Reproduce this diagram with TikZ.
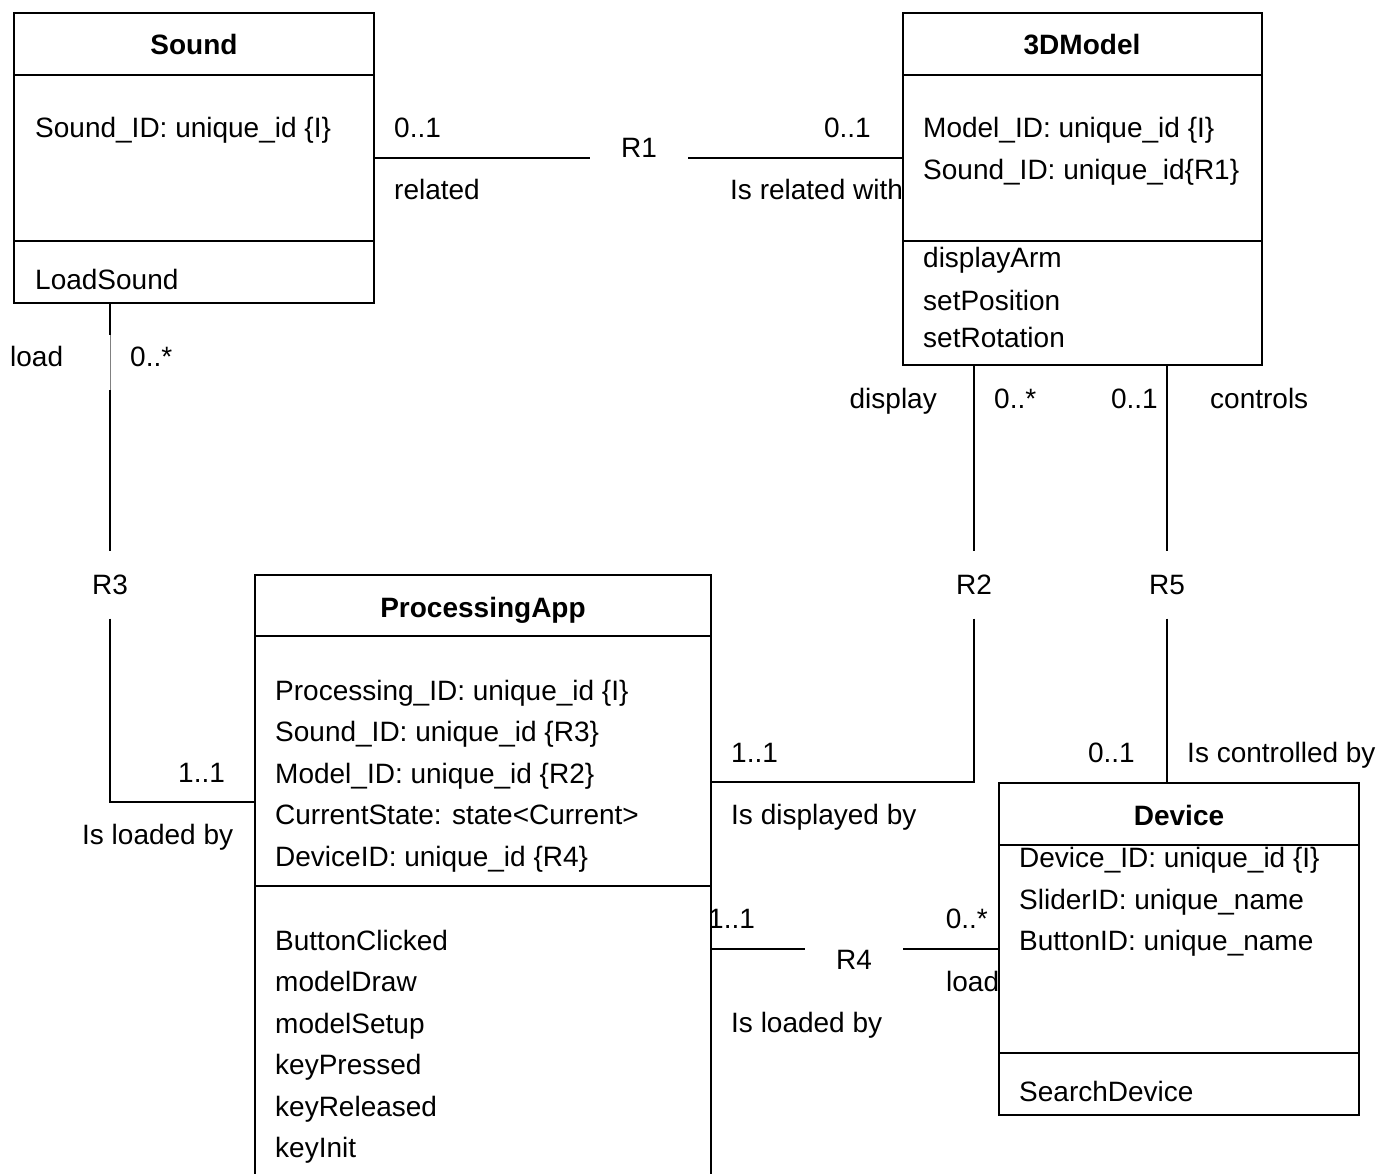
\documentclass[tikz,border=0pt]{standalone}
\usepackage{fontspec}
\setmainfont{Liberation Sans}
\begin{document}
\begin{tikzpicture}[x=1pt,y=-1pt,
  ln/.style={line width=1.5pt},
  box/.style={anchor=north west, inner sep=0pt, outer sep=0pt},
  txt/.style={anchor=base west, inner sep=0pt, font=\fontsize{28}{34}\selectfont, yshift=-10pt},
  rtxt/.style={anchor=base east, inner sep=0pt, font=\fontsize{28}{34}\selectfont, yshift=-10pt},
  ttl/.style={anchor=base, inner sep=0pt, font=\fontsize{28}{34}\selectfont\bfseries, yshift=-10pt},
  rel/.style={inner sep=0pt, font=\fontsize{28}{34}\selectfont},
  relh/.style={rel, minimum width=98pt, minimum height=30pt},
  relv/.style={rel, minimum width=40pt, minimum height=67pt}]
\useasboundingbox (0,0) rectangle (1391,1174);

% ---------- boxes ----------
\node[box, draw, line width=1.5pt, minimum width=360pt, minimum height=290pt] (sound) at (14,13) {};
\draw[ln] (14,75) -- (374,75);
\draw[ln] (14,241) -- (374,241);
\node[ttl] (soundT) at (194,45) {Sound};
\node[txt] (s1) at (35,128) {Sound\_ID: unique\_id \{I\}};
\node[txt] (s2) at (35,279) {LoadSound};

\node[box, draw, line width=1.5pt, minimum width=359pt, minimum height=352pt] (m3d) at (903,13) {};
\draw[ln] (903,75) -- (1262,75);
\draw[ln] (903,241) -- (1262,241);
\node[ttl] (m3dT) at (1082,45) {3DModel};
\node[txt] (m1) at (923,128) {Model\_ID: unique\_id \{I\}};
\node[txt] (m2) at (923,170) {Sound\_ID: unique\_id\{R1\}};
\node[txt] (m3) at (923,258) {displayArm};
\node[txt] (m4) at (923,300) {setPosition};
\node[txt] (m5) at (923,337) {setRotation};

\node[box, minimum width=456pt, minimum height=620pt] (proc) at (255,575) {};
\draw[ln] (proc.south west) |- (proc.north east) -- (proc.south east);
\draw[ln] (255,636) -- (711,636);
\draw[ln] (255,886) -- (711,886);
\node[ttl] (procT) at (483,607) {ProcessingApp};
\node[txt] (p1) at (275,690) {Processing\_ID: unique\_id \{I\}};
\node[txt] (p2) at (275,731) {Sound\_ID: unique\_id \{R3\}};
\node[txt] (p3) at (275,773) {Model\_ID: unique\_id \{R2\}};
\node[txt] (p4) at (275,814) {CurrentState: state<Current>};
\node[txt] (p5) at (275,856) {DeviceID: unique\_id \{R4\}};
\node[txt] (p6) at (275,940) {ButtonClicked};
\node[txt] (p7) at (275,981) {modelDraw};
\node[txt] (p8) at (275,1023) {modelSetup};
\node[txt] (p9) at (275,1064) {keyPressed};
\node[txt] (p10) at (275,1106) {keyReleased};
\node[txt] (p11) at (275,1147) {keyInit};

\node[box, draw, line width=1.5pt, minimum width=360pt, minimum height=332pt] (dev) at (999,783) {};
\draw[ln] (999,845) -- (1359,845);
\draw[ln] (999,1053) -- (1359,1053);
\node[ttl] (devT) at (1179,815) {Device};
\node[txt] (d1) at (1019,857) {Device\_ID: unique\_id \{I\}};
\node[txt] (d2) at (1019,899) {SliderID: unique\_name};
\node[txt] (d3) at (1019,940) {ButtonID: unique\_name};
\node[txt] (d4) at (1019,1091) {SearchDevice};

% ---------- R1 ----------
\node[relh] (r1) at (639,148) {R1};
\draw[ln] (sound.east) -- (sound.east -| r1.west);
\draw[ln] (sound.east -| r1.east) -- (sound.east -| m3d.west);
\node[txt] (r1a) at (394,128) {0..1};
\node[txt] (r1b) at (394,190) {related};
\node[rtxt] (r1c) at (871,128) {0..1};
\node[txt] (r1d) at (730,190) {Is related with};

% ---------- R3 ----------
\node[relv] (r3) at (110,585) {R3};
\coordinate (s3top) at (sound.south -| r3);
\coordinate (g1) at (110,335);
\coordinate (g2) at (110,390);
\draw[ln] (s3top) -- (g1);
\draw[gray, line width=0.8pt] (g1) -- (g2);
\draw[ln] (g2) -- (r3.north);
\coordinate (p3in) at (255,802);
\draw[ln] (r3.south) |- (p3in);
\node[txt] (r3a) at (10,356) {load};
\node[txt] (r3b) at (130,356) {0..*};
\node[txt] (r3c) at (178,772) {1..1};
\node[txt] (r3d) at (82,834) {Is loaded by};

% ---------- R2 ----------
\node[relv] (r2) at (974,585) {R2};
\draw[ln] (m3d.south -| r2) -- (r2.north);
\coordinate (p2in) at (711,782);
\draw[ln] (r2.south) |- (p2in);
\node[rtxt] (r2a) at (937,398) {display};
\node[txt] (r2b) at (994,398) {0..*};
\node[txt] (r2c) at (731,752) {1..1};
\node[txt] (r2d) at (731,814) {Is displayed by};

% ---------- R5 ----------
\node[relv] (r5) at (1167,585) {R5};
\draw[ln] (m3d.south -| r5) -- (r5.north);
\draw[ln] (r5.south) -- (dev.north -| r5);
\node[rtxt] (r5a) at (1158,398) {0..1};
\node[txt] (r5b) at (1210,398) {controls};
\node[rtxt] (r5c) at (1135,752) {0..1};
\node[txt] (r5d) at (1187,752) {Is controlled by};

% ---------- R4 ----------
\node[relh] (r4) at (854,960) {R4};
\coordinate (p4out) at (711,949);
\draw[ln] (p4out) -- (p4out -| r4.west);
\draw[ln] (p4out -| r4.east) -- (p4out -| dev.west);
\node[txt] (r4a) at (708,918) {1..1};
\node[rtxt] (r4b) at (988,918) {0..*};
\node[txt] (r4c) at (946,981) {load};
\node[txt] (r4d) at (731,1022) {Is loaded by};
\end{tikzpicture}
\end{document}
